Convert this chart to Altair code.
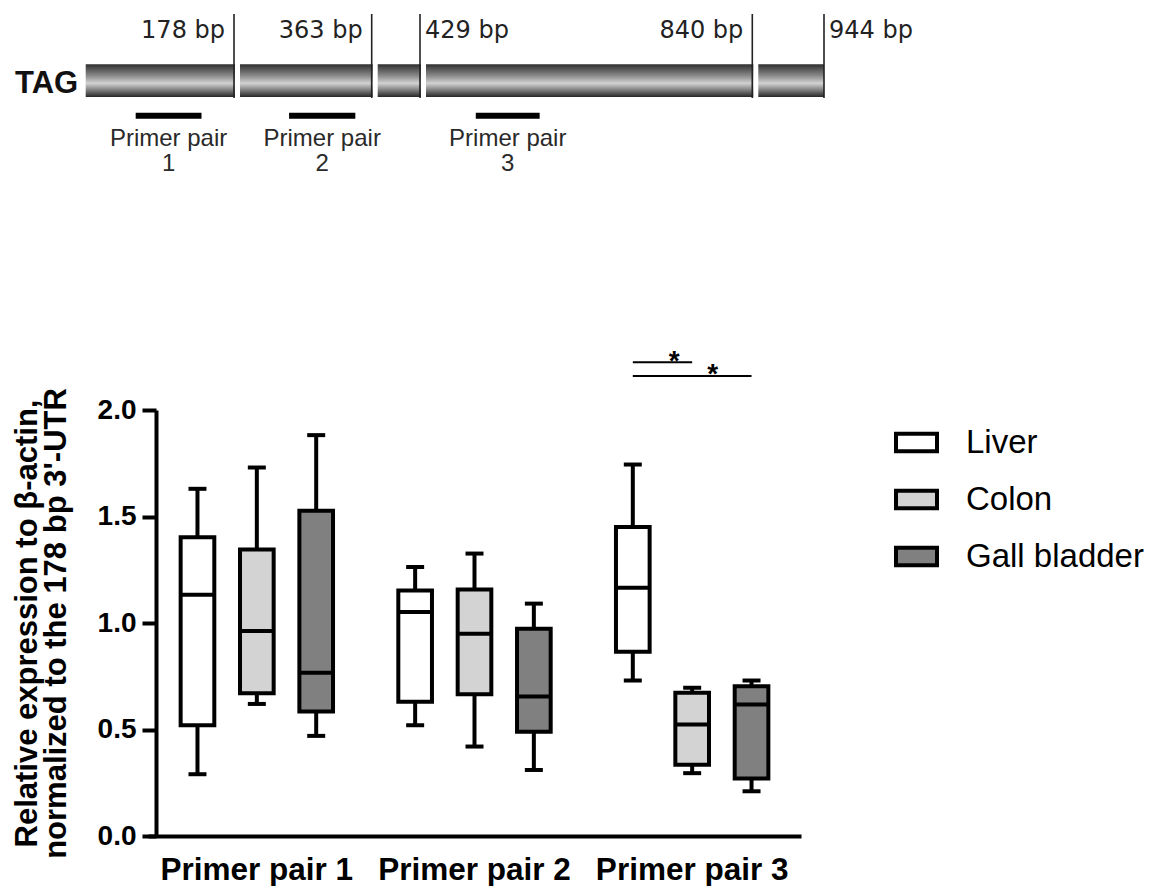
import altair as alt
import pandas as pd

# ---------------- data ----------------
groups = ["Primer pair 1", "Primer pair 2", "Primer pair 3"]
tissues = ["Liver", "Colon", "Gall bladder"]
tissue_colors = ["#ffffff", "#d3d3d3", "#808080"]

# order: PP1 (Liver, Colon, Gall), PP2 (...), PP3 (...)
whisker_low = [0.29, 0.62, 0.47, 0.52, 0.42, 0.31, 0.73, 0.295, 0.21]
q1 = [0.52, 0.67, 0.585, 0.63, 0.665, 0.49, 0.865, 0.335, 0.27]
median = [1.133, 0.962, 0.766, 1.052, 0.95, 0.655, 1.166, 0.523, 0.617]
q3 = [1.403, 1.345, 1.527, 1.153, 1.157, 0.973, 1.451, 0.672, 0.703]
whisker_high = [1.63, 1.73, 1.882, 1.263, 1.326, 1.091, 1.744, 0.696, 0.73]

y_ticks = [0, 0.5, 1.0, 1.5, 2.0]
y_title = ["Relative expression to β-actin,", "normalized to the 178 bp 3'-UTR"]

# significance brackets (Primer pair 3)
sig_pair = ["a", "a", "b", "b"]
sig_group = ["Primer pair 3"] * 4
sig_tissue = ["Liver", "Colon", "Liver", "Gall bladder"]
sig_level = [2.224, 2.224, 2.16, 2.16]

# gene schematic (bp)
gene_name = "TAG"
gene_name_bp = -9
seg_start = [0, 178, 363, 429, 840]
seg_end = [178, 363, 429, 840, 944]
bp_marks = [178, 363, 429, 840, 944]
bp_labels = ["178 bp", "363 bp", "429 bp", "840 bp", "944 bp"]
bp_side = ["right", "right", "left", "right", "left"]
primer_start = [60, 252, 498]
primer_end = [139, 341, 577]
primer_text = ["Primer pair", "Primer pair", "Primer pair"]
primer_num = ["1", "2", "3"]

FONT = "Liberation Sans"

# ---------------- bottom: box plot ----------------
box_df = pd.DataFrame({
    "group": [g for g in groups for _ in tissues],
    "tissue": tissues * len(groups),
    "lo": whisker_low, "q1": q1, "med": median, "q3": q3, "hi": whisker_high,
})
sig_df = pd.DataFrame({"pair": sig_pair, "group": sig_group,
                       "tissue": sig_tissue, "level": sig_level})

x_enc = alt.X("group:N", sort=groups,
              scale=alt.Scale(domain=groups, paddingInner=0, paddingOuter=0,
                              range=[-8, 645]),
              axis=alt.Axis(title=None, labelAngle=0, ticks=False, domainWidth=4,
                            domainColor="black", labelFontSize=31.5, labelFontWeight="bold",
                            labelFont=FONT, labelColor="black", labelPadding=18,
                            labelLimit=0, labelOverlap=False))
xo_enc = alt.XOffset("tissue:N", sort=tissues,
                     scale=alt.Scale(domain=tissues, paddingInner=0.433, paddingOuter=0.55))
y_scale = alt.Scale(domain=[0, 2], nice=False)
y_axis = alt.Axis(title=y_title, values=y_ticks, format=".1f", grid=False,
                  domainWidth=4, domainColor="black", tickWidth=4, tickColor="black",
                  tickSize=14, labelFontSize=28, labelFontWeight="bold", labelFont=FONT,
                  labelColor="black", labelPadding=6, titleFontSize=31,
                  titleFontWeight="bold", titleFont=FONT, titleColor="black",
                  titlePadding=25, titleLineHeight=29, titleLimit=2000)

base = alt.Chart(box_df)

whisk_lo = base.mark_rule(color="black", strokeWidth=4).encode(
    x=x_enc, xOffset=xo_enc, y=alt.Y("lo:Q", scale=y_scale, axis=y_axis), y2="q1:Q")
whisk_hi = base.mark_rule(color="black", strokeWidth=4).encode(
    x=x_enc, xOffset=xo_enc, y=alt.Y("q3:Q", scale=y_scale), y2="hi:Q")
boxes = base.mark_bar(stroke="black", strokeWidth=4, opacity=1).encode(
    x=x_enc, xOffset=xo_enc, y=alt.Y("q1:Q", scale=y_scale), y2="q3:Q",
    fill=alt.Fill("tissue:N", sort=tissues,
                  scale=alt.Scale(domain=tissues, range=tissue_colors),
                  legend=alt.Legend(title=None, orient="none", legendX=738, legendY=406,
                                    symbolType="M-1,-0.43H1V0.43H-1Z", symbolSize=1681,
                                    symbolStrokeColor="black", symbolStrokeWidth=4,
                                    labelFontSize=33, labelFont=FONT, labelColor="black",
                                    labelOffset=27, rowPadding=17, padding=0,
                                    labelLimit=400)))
med = base.mark_tick(color="black", thickness=4, size=36, opacity=1).encode(
    x=x_enc, xOffset=xo_enc, y=alt.Y("med:Q", scale=y_scale))
cap_lo = base.mark_tick(color="black", thickness=4, size=18, opacity=1).encode(
    x=x_enc, xOffset=xo_enc, y=alt.Y("lo:Q", scale=y_scale))
cap_hi = base.mark_tick(color="black", thickness=4, size=18, opacity=1).encode(
    x=x_enc, xOffset=xo_enc, y=alt.Y("hi:Q", scale=y_scale))

sig_lines = alt.Chart(sig_df).mark_line(color="black", strokeWidth=2).encode(
    x=x_enc, xOffset=xo_enc, y=alt.Y("level:Q", scale=y_scale), detail="pair:N")
star_a = alt.Chart(sig_df).transform_filter(
    (alt.datum.pair == "a") & (alt.datum.tissue == "Colon")).mark_text(
    text="*", fontSize=28, fontWeight="bold", font=FONT, baseline="alphabetic",
    dx=-18, dy=8, color="black").encode(
    x=x_enc, xOffset=xo_enc, y=alt.Y("level:Q", scale=y_scale))
star_b = alt.Chart(sig_df).transform_filter(
    (alt.datum.pair == "b") & (alt.datum.tissue == "Liver")).mark_text(
    text="*", fontSize=28, fontWeight="bold", font=FONT, baseline="alphabetic",
    dx=80, dy=7, color="black").encode(
    x=x_enc, xOffset=xo_enc, y=alt.Y("level:Q", scale=y_scale))

bottom = alt.layer(whisk_lo, whisk_hi, boxes, med, cap_lo, cap_hi,
                   sig_lines, star_a, star_b).properties(width=642, height=426)

# ---------------- top: gene schematic ----------------
bp_scale = alt.Scale(domain=[0, 178, 363, 429, 840, 944],
                     range=[-70.3, 78, 215.7, 264, 596.3, 668])
seg_df = pd.DataFrame({"start": seg_start, "end": seg_end})
mark_df = pd.DataFrame({"bp": bp_marks, "label": bp_labels, "side": bp_side})
primer_df = pd.DataFrame({"start": primer_start, "end": primer_end,
                          "text": primer_text, "num": primer_num})
name_df = pd.DataFrame({"bp": [gene_name_bp], "name": [gene_name]})

grad = alt.Gradient(gradient="linear", x1=0, x2=0, y1=0, y2=1, stops=[
    alt.GradientStop(offset=0, color="#2e2e2e"),
    alt.GradientStop(offset=0.1, color="#4a4a4a"),
    alt.GradientStop(offset=0.35, color="#8a8a8a"),
    alt.GradientStop(offset=0.58, color="#d2d2d2"),
    alt.GradientStop(offset=0.8, color="#7a7a7a"),
    alt.GradientStop(offset=1, color="#262626"),
])

segs = alt.Chart(seg_df).mark_rect(fill=grad).encode(
    x=alt.X("start:Q", scale=bp_scale, axis=None), x2="end:Q",
    y=alt.value(50.3), y2=alt.value(83))
gaps = alt.Chart(mark_df).transform_filter(alt.datum.bp < 944).mark_rule(
    color="white", strokeWidth=5, xOffset=3.5).encode(
    x=alt.X("bp:Q", scale=bp_scale, axis=None), y=alt.value(46), y2=alt.value(87))
vlines = alt.Chart(mark_df).mark_rule(color="#222222", strokeWidth=1.6).encode(
    x=alt.X("bp:Q", scale=bp_scale, axis=None), y=alt.value(0), y2=alt.value(84))
lab_r = alt.Chart(mark_df).transform_filter(alt.datum.side == "right").mark_text(
    align="right", baseline="alphabetic", dx=-9, fontSize=24, font="DejaVu Sans",
    color="#222222").encode(
    x=alt.X("bp:Q", scale=bp_scale, axis=None), y=alt.value(24), text="label:N")
lab_l = alt.Chart(mark_df).transform_filter(alt.datum.side == "left").mark_text(
    align="left", baseline="alphabetic", dx=5, fontSize=24, font="DejaVu Sans",
    color="#222222").encode(
    x=alt.X("bp:Q", scale=bp_scale, axis=None), y=alt.value(24), text="label:N")
name = alt.Chart(name_df).mark_text(
    align="right", baseline="alphabetic", fontSize=31, fontWeight="bold",
    font="Liberation Sans Narrow, Liberation Sans", color="#111111").encode(
    x=alt.X("bp:Q", scale=bp_scale, axis=None), y=alt.value(79), text="name:N")
pbars = alt.Chart(primer_df).mark_rule(color="black", strokeWidth=6).encode(
    x=alt.X("start:Q", scale=bp_scale, axis=None), x2="end:Q", y=alt.value(101.7))
ptext = alt.Chart(primer_df).transform_calculate(
    mid="(datum.start + datum.end) / 2").mark_text(
    baseline="alphabetic", fontSize=24, font=FONT, color="#2a2a2a").encode(
    x=alt.X("mid:Q", scale=bp_scale, axis=None), y=alt.value(132), text="text:N")
pnum = alt.Chart(primer_df).transform_calculate(
    mid="(datum.start + datum.end) / 2").mark_text(
    baseline="alphabetic", fontSize=24, font=FONT, color="#2a2a2a").encode(
    x=alt.X("mid:Q", scale=bp_scale, axis=None), y=alt.value(157), text="num:N")

top = alt.layer(segs, gaps, vlines, lab_r, lab_l, name, pbars, ptext, pnum).properties(
    width=642, height=165)

chart = alt.vconcat(top, bottom, spacing=169).properties(
    padding={"left": 3, "top": 5, "right": 0, "bottom": 0}
).configure(font=FONT).configure_view(stroke=None)

chart.save("out.html", embed_options={"renderer": "svg", "actions": False})
